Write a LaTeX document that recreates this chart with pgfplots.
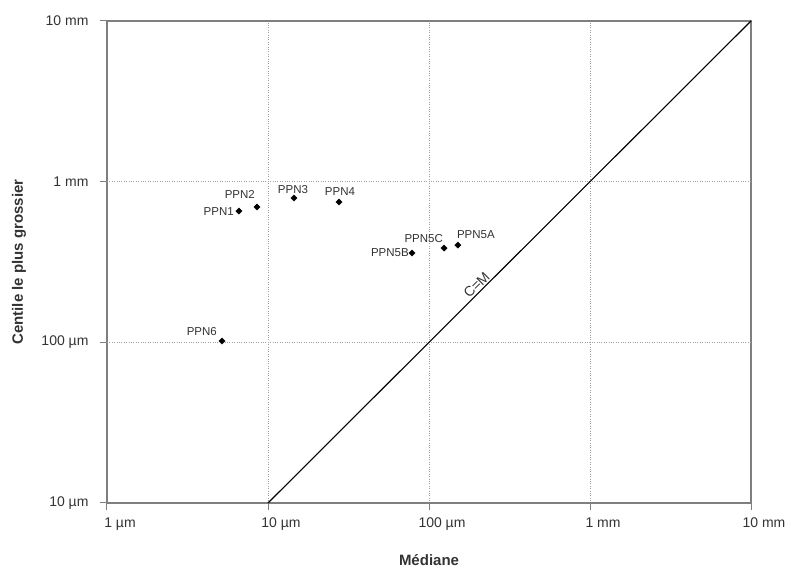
\documentclass[border=0pt]{standalone}
\usepackage{fontspec}
\setmainfont{Liberation Sans}
\usepackage{pgfplots}
\pgfplotsset{compat=1.18}
\definecolor{axgray}{HTML}{7F7F7F}
\definecolor{txt}{HTML}{333333}
\definecolor{gridc}{HTML}{A0A0A0}
\begin{document}
\begin{tikzpicture}
\path[use as bounding box] (-107pt,-64pt) rectangle (684pt,503pt);
\begin{axis}[
  at={(0pt,0pt)}, anchor=south west,
  scale only axis, width=644pt, height=482pt,
  xmode=log, ymode=log,
  xmin=1, xmax=10000, ymin=10, ymax=10000,
  xtick={1,10,100,1000,10000},
  xticklabels={1 µm,10 µm,100 µm,1 mm,10 mm},
  ytick={10,100,1000,10000},
  yticklabels={10 µm,100 µm,1 mm,10 mm},
  xminorticks=false, yminorticks=false,
  tick align=outside, xtick pos=bottom, ytick pos=left,
  major tick length=7pt,
  tick style={axgray, line width=1pt},
  axis line style={axgray, line width=1.3pt},
  extra x ticks={10,100,1000}, extra x tick labels={,,},
  extra y ticks={100,1000}, extra y tick labels={,},
  extra tick style={grid=major},
  major grid style={gridc, dotted, line width=0.9pt},
  xticklabel style={font=\fontsize{14}{16}\selectfont, text=txt, xshift=13pt, yshift=-4pt},
  yticklabel style={font=\fontsize{14}{16}\selectfont, text=txt, xshift=-8pt},
  xlabel={Médiane}, ylabel={Centile le plus grossier},
  xlabel style={at={(axis description cs:0.5,-0.118)}, anchor=center,
    font=\bfseries\fontsize{15}{18}\selectfont, text=txt},
  ylabel style={at={(axis description cs:-0.1366,0.5)}, anchor=center,
    font=\bfseries\fontsize{15}{18}\selectfont, text=txt},
  clip=false,
]
\addplot[black, line width=1.1pt] coordinates {(10,10) (10000,10000)}
  node[pos=0.442, sloped, anchor=south, inner sep=1.5pt,
       font=\fontsize{14}{16}\selectfont, text=txt] {C=M};
\addplot[only marks, mark=square*, mark size=2.2pt, black,
  mark options={rotate=45}] coordinates {
  (6.60,656) (8.55,695) (14.5,791) (27.6,747)
  (78.4,360) (124,386) (151,403) (5.18,102)};
\begin{scope}[every node/.style={font=\fontsize{11.5}{13}\selectfont, text=txt, inner sep=0pt}]
\node[anchor=east, xshift=-5pt] at (axis cs:6.60,656) {PPN1};
\node[anchor=east, xshift=-2pt, yshift=13pt] at (axis cs:8.55,695) {PPN2};
\node[anchor=center, xshift=-1pt, yshift=8pt] at (axis cs:14.5,791) {PPN3};
\node[anchor=center, xshift=1pt, yshift=10pt] at (axis cs:27.6,747) {PPN4};
\node[anchor=east, xshift=-3pt] at (axis cs:78.4,360) {PPN5B};
\node[anchor=east, xshift=-1pt, yshift=10pt] at (axis cs:124,386) {PPN5C};
\node[anchor=west, xshift=-1pt, yshift=10pt] at (axis cs:151,403) {PPN5A};
\node[anchor=east, xshift=-5pt, yshift=9pt] at (axis cs:5.18,102) {PPN6};
\end{scope}
\end{axis}
\end{tikzpicture}
\end{document}
